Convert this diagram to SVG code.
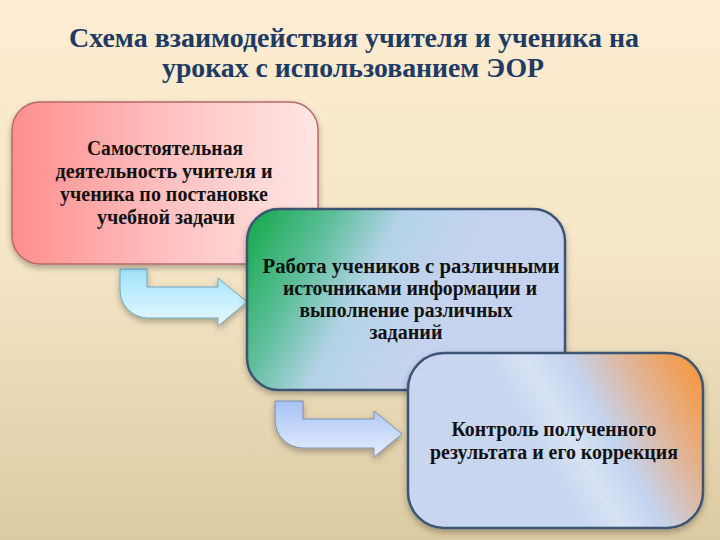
<svg xmlns="http://www.w3.org/2000/svg" width="720" height="540" viewBox="0 0 720 540">
<defs>
<linearGradient id="bg" x1="0" y1="0" x2="0" y2="1">
<stop offset="0" stop-color="#fdecd2"/>
<stop offset="0.45" stop-color="#f6e7c8"/>
<stop offset="1" stop-color="#dccaa2"/>
</linearGradient>
<linearGradient id="g1" x1="0" y1="0" x2="1" y2="0">
<stop offset="0" stop-color="#ff8e8e"/>
<stop offset="0.55" stop-color="#ffc4c4"/>
<stop offset="1" stop-color="#ffe6e4"/>
</linearGradient>
<linearGradient id="g2" gradientUnits="userSpaceOnUse" x1="247" y1="215" x2="440" y2="320">
<stop offset="0" stop-color="#12a848"/>
<stop offset="0.35" stop-color="#5fbf9c"/>
<stop offset="0.62" stop-color="#b4d3e8"/>
<stop offset="1" stop-color="#c6d3ef"/>
</linearGradient>
<linearGradient id="g3" gradientUnits="userSpaceOnUse" x1="703" y1="370" x2="545" y2="460">
<stop offset="0" stop-color="#f7963a"/>
<stop offset="0.35" stop-color="#e0b69c"/>
<stop offset="0.62" stop-color="#c4d4ee"/>
<stop offset="0.82" stop-color="#d8e2f4"/>
<stop offset="1" stop-color="#c8d6ef"/>
</linearGradient>
<linearGradient id="a1" x1="0" y1="0" x2="0" y2="1">
<stop offset="0" stop-color="#9fe3fb"/>
<stop offset="1" stop-color="#e8f9ff"/>
</linearGradient>
<linearGradient id="a2" x1="0" y1="0" x2="0" y2="1">
<stop offset="0" stop-color="#a6c2f6"/>
<stop offset="1" stop-color="#e6eefc"/>
</linearGradient>
<filter id="sh" x="-10%" y="-10%" width="120%" height="130%">
<feDropShadow dx="0" dy="3" stdDeviation="3" flood-color="#000" flood-opacity="0.3"/>
</filter>
</defs>
<style>
.title{font-family:"Liberation Serif","Times New Roman",serif;font-weight:bold;font-size:28px;fill:#203a64;text-anchor:middle}
.t{font-family:"Liberation Serif","Times New Roman",serif;font-weight:bold;font-size:20px;fill:#111;text-anchor:middle}
.box{stroke:#3b5472;stroke-width:2.5}
.arrow1{fill:url(#a1);stroke:#6aa8c0;stroke-width:1}
.arrow2{fill:url(#a2);stroke:#7890b8;stroke-width:1}
</style>
<rect width="720" height="540" fill="url(#bg)"/>
<g id="title">
<text class="title" x="354" y="47" textLength="570" lengthAdjust="spacingAndGlyphs">Схема взаимодействия учителя и ученика на</text>
<text class="title" x="353" y="77" textLength="382" lengthAdjust="spacingAndGlyphs">уроках с использованием ЭОР</text>
</g>
<g id="connectors">
<path class="arrow1" filter="url(#sh)" d="M120,269 H147 V287 H218 V278 L247,302 L218,326 V318 H148 A28,28 0 0 1 120,290 Z"/>
<path class="arrow2" filter="url(#sh)" d="M275,401 H303 V419 H374 V411 L402,434 L374,457 V448 H303 A28,28 0 0 1 275,420 Z"/>
</g>
<g id="node1">
<rect x="12" y="102" width="306" height="162" rx="28" fill="url(#g1)" stroke="#b86a6a" stroke-width="1.5" filter="url(#sh)"/>
<text class="t" x="165" y="155" textLength="156" lengthAdjust="spacingAndGlyphs">Самостоятельная</text>
<text class="t" x="164" y="178" textLength="217" lengthAdjust="spacingAndGlyphs">деятельность учителя и</text>
<text class="t" x="164" y="201" textLength="208" lengthAdjust="spacingAndGlyphs">ученика по постановке</text>
<text class="t" x="166" y="224" textLength="138" lengthAdjust="spacingAndGlyphs">учебной задачи</text>
</g>
<g id="node2">
<rect class="box" x="247" y="209" width="318" height="181" rx="32" fill="url(#g2)" filter="url(#sh)"/>
<text class="t" x="411" y="273" textLength="297" lengthAdjust="spacingAndGlyphs">Работа учеников с различными</text>
<text class="t" x="410" y="295" textLength="254" lengthAdjust="spacingAndGlyphs">источниками информации и</text>
<text class="t" x="406" y="317" textLength="213" lengthAdjust="spacingAndGlyphs">выполнение различных</text>
<text class="t" x="406" y="339" textLength="73" lengthAdjust="spacingAndGlyphs">заданий</text>
</g>
<g id="node3">
<rect class="box" x="408" y="353" width="295" height="175" rx="36" fill="url(#g3)" filter="url(#sh)"/>
<text class="t" x="554" y="436" textLength="205" lengthAdjust="spacingAndGlyphs">Контроль полученного</text>
<text class="t" x="554" y="459" textLength="248" lengthAdjust="spacingAndGlyphs">результата и его коррекция</text>
</g>
</svg>
